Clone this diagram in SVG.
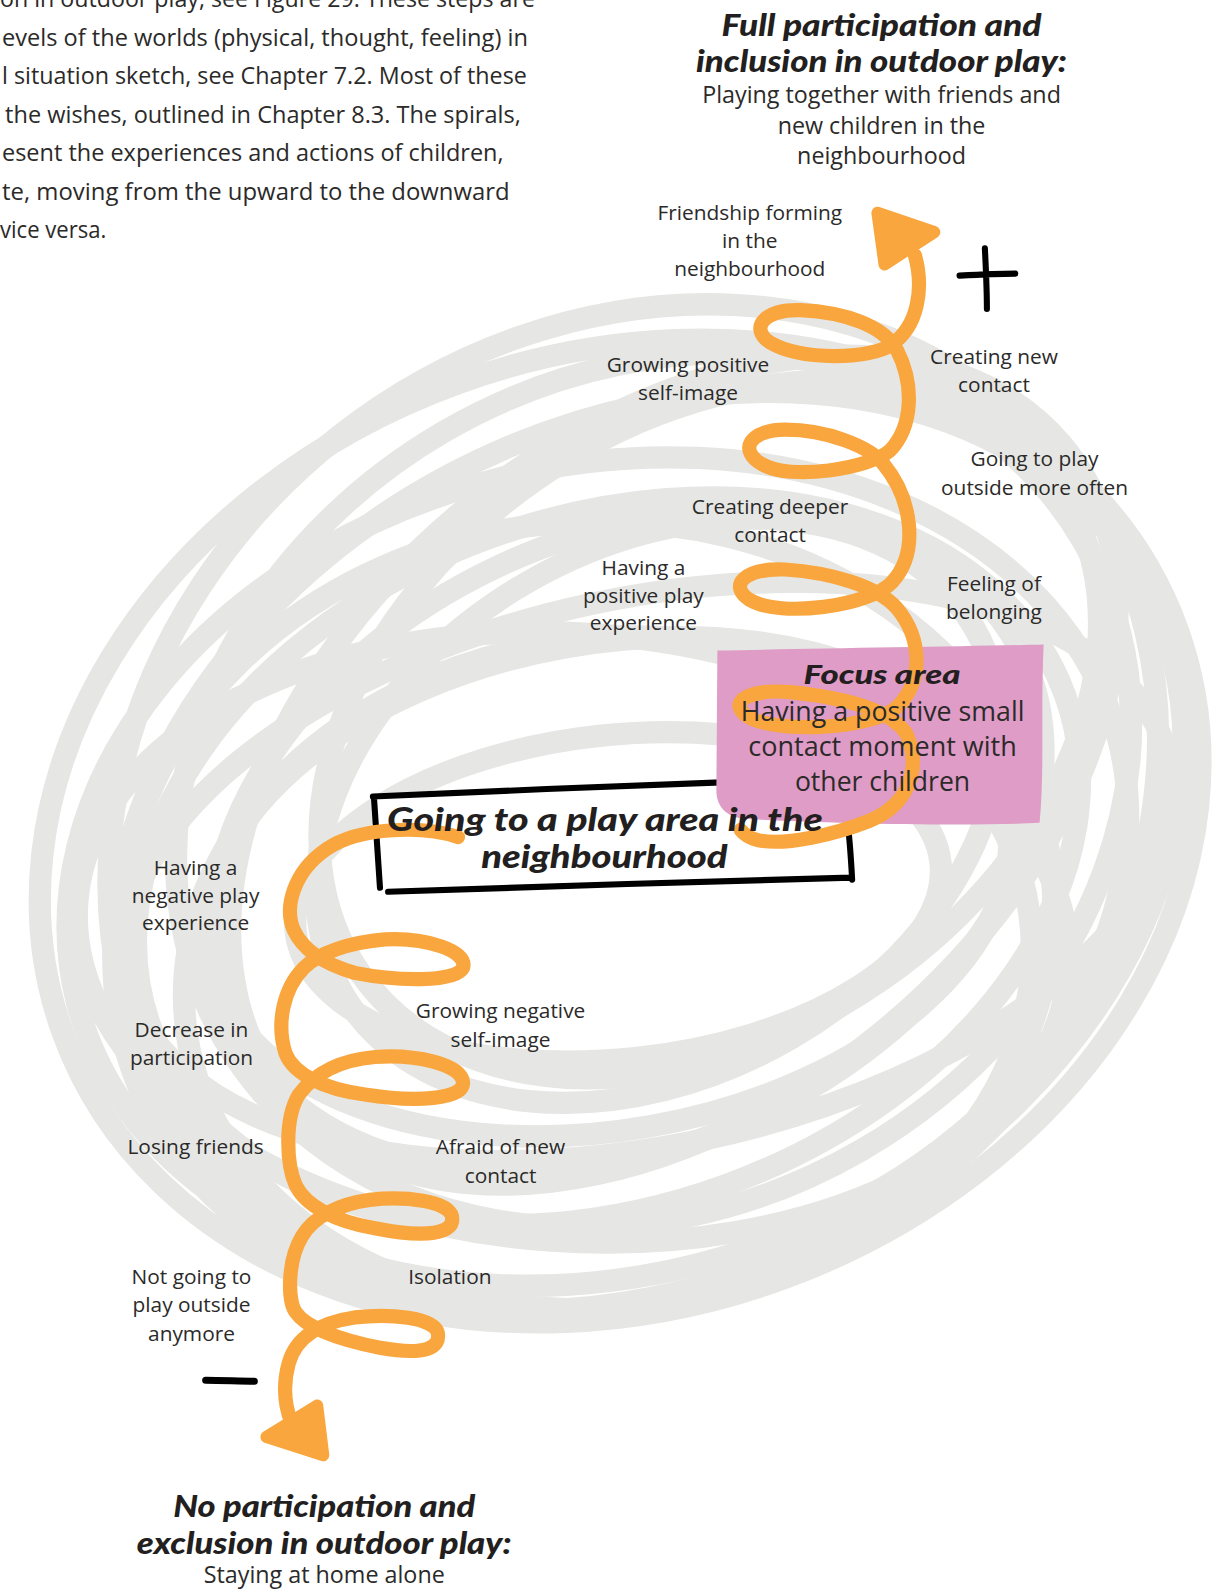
<svg xmlns="http://www.w3.org/2000/svg" width="1224" height="1589" viewBox="0 0 1224 1589">
  <style>
    .para { font-family: "Open Sans", "Noto Sans", sans-serif; font-size: 23px; fill: #2b2a29; }
    .lbl { font-family: "Open Sans", "Noto Sans", sans-serif; font-size: 20.6px; fill: #2b2a29; text-anchor: middle; }
    .sub { font-family: "Open Sans", "Noto Sans", sans-serif; font-size: 23px; fill: #2b2a29; text-anchor: middle; }
    .focus { font-family: "Open Sans", "Noto Sans", sans-serif; font-size: 27px; fill: #2b2a29; text-anchor: middle; }
    .head { font-family: "Lato", "Open Sans", sans-serif; font-weight: 900; font-style: italic; fill: #231f20; }
    .scrib { fill: none; stroke: #e6e7e4; stroke-width: 22; }
    .spiral { fill: none; stroke: #f9a63e; stroke-width: 14; stroke-linecap: round; stroke-linejoin: round; }
    .arrowhead { fill: #f9a63e; stroke: #f9a63e; stroke-width: 12; stroke-linejoin: round; }
    .ink { fill: none; stroke: #000; stroke-width: 6; stroke-linecap: round; stroke-linejoin: round; }
  </style>
  <rect width="1224" height="1589" fill="#fff"/>
  <g transform="scale(1.01325 1.01339)">
    <!-- body text running in from the page column -->
    <g id="paragraph" class="para">
      <text x="0" y="7" textLength="528" lengthAdjust="spacingAndGlyphs">on in outdoor play, see Figure 29. These steps are</text>
      <text x="2" y="45" textLength="519" lengthAdjust="spacingAndGlyphs">evels of the worlds (physical, thought, feeling) in</text>
      <text x="2" y="83" textLength="518" lengthAdjust="spacingAndGlyphs">l situation sketch, see Chapter 7.2. Most of these</text>
      <text x="5" y="121" textLength="509" lengthAdjust="spacingAndGlyphs">the wishes, outlined in Chapter 8.3. The spirals,</text>
      <text x="2" y="159" textLength="495" lengthAdjust="spacingAndGlyphs">esent the experiences and actions of children,</text>
      <text x="2" y="197" textLength="501" lengthAdjust="spacingAndGlyphs">te, moving from the upward to the downward</text>
      <text x="0" y="235" textLength="105" lengthAdjust="spacingAndGlyphs">vice versa.</text>
    </g>

    <!-- grey scribble cloud -->
    <g id="scribble" class="scrib">
      <ellipse cx="612" cy="820" rx="585" ry="470" transform="rotate(-20 612 820)"/>
      <ellipse cx="625" cy="800" rx="545" ry="470" transform="rotate(-38 625 800)"/>
      <ellipse cx="590" cy="860" rx="530" ry="400" transform="rotate(-14 590 860)"/>
      <ellipse cx="645" cy="780" rx="490" ry="410" transform="rotate(-30 645 780)"/>
      <ellipse cx="600" cy="850" rx="480" ry="340" transform="rotate(-20 600 850)"/>
      <ellipse cx="620" cy="830" rx="430" ry="300" transform="rotate(-25 620 830)"/>
      <ellipse cx="600" cy="875" rx="400" ry="240" transform="rotate(-10 600 875)"/>
      <ellipse cx="650" cy="800" rx="360" ry="260" transform="rotate(-30 650 800)"/>
      <ellipse cx="610" cy="885" rx="320" ry="160" transform="rotate(-6 610 885)"/>
      <ellipse cx="640" cy="860" rx="525" ry="270" transform="rotate(-12 640 860)"/>
      <ellipse cx="665" cy="760" rx="500" ry="330" transform="rotate(-40 665 760)"/>
      <ellipse cx="580" cy="905" rx="460" ry="390" transform="rotate(-5 580 905)"/>
      <ellipse cx="700" cy="720" rx="420" ry="300" transform="rotate(-35 700 720)"/>
      <ellipse cx="565" cy="925" rx="490" ry="300" transform="rotate(4 565 925)"/>
      <ellipse cx="640" cy="840" rx="555" ry="420" transform="rotate(-28 640 840)"/>
      <ellipse cx="600" cy="960" rx="420" ry="330" transform="rotate(-8 600 960)"/>
    </g>

    <!-- central node: hand-drawn frame -->
    <g id="node-play-area">
      <path d="M370,786 L712,772 L712,866 L380,878 Z" fill="#fff"/>
      <path class="ink" d="M368,786 C480,781 600,776 712,772 M369,786 C371,815 373,845 375,876 M383,880 C520,875 700,870 840,866 M837,816 C839,833 840,850 841,868"/>
    </g>

    <!-- focus node: pink patch -->
    <g id="node-focus">
      <path d="M708,642 C800,640 950,638 1030,636 C1027,700 1031,760 1026,812 C950,816 800,812 735,808 C716,806 707,795 707,780 Z" fill="#df9cc6"/>
    </g>

    <!-- connectors: upward and downward spirals -->
    <g id="connectors">
      <path class="spiral" d="M903,252 C912,285 906,322 880,340 C858,355 790,356 760,338 C740,325 752,305 790,306 C835,308 872,322 885,345 C902,378 902,420 878,445 C858,462 780,475 752,458 C728,444 740,424 775,424 C815,424 858,440 872,458 C900,492 908,545 880,575 C858,598 770,610 740,592 C718,578 735,560 775,562 C820,565 865,578 885,600 C910,630 912,672 885,698 C860,720 760,725 735,705 C718,690 745,680 780,683 C830,688 880,700 895,725 C910,760 895,795 858,810 C825,823 775,835 748,829 C740,827 734,823 731,819"/>
      <polygon class="arrowhead" points="866,210 922,229 873,261"/>
      <path class="spiral" d="M452,826 C420,815 355,815 322,838 C290,860 280,895 290,918 C298,935 315,950 350,960 C390,968 450,970 457,955 C462,938 420,925 380,927 C345,930 315,940 300,955 C280,975 272,1010 282,1040 C290,1060 320,1075 360,1080 C410,1088 458,1085 457,1068 C455,1050 410,1040 370,1043 C335,1046 310,1060 295,1080 C280,1105 283,1150 292,1170 C302,1190 330,1205 370,1212 C420,1222 450,1218 446,1200 C442,1185 400,1180 365,1184 C335,1188 310,1200 298,1220 C283,1245 284,1285 292,1295 C302,1310 335,1322 375,1330 C420,1338 435,1330 432,1315 C428,1300 385,1296 350,1300 C315,1305 292,1320 285,1345 C278,1370 282,1390 288,1405"/>
      <polygon class="arrowhead" points="313,1387 263,1418 319,1436"/>
    </g>

    <!-- plus and minus marks -->
    <g id="marks" class="ink">
      <path d="M947,272 C965,271 985,270 1002,270 M972,245 C973,265 974,285 974,305"/>
      <path d="M203,1362 C220,1362 236,1363 251,1363" stroke-width="7"/>
    </g>

    <!-- goal nodes -->
    <g id="node-full-participation">
      <text class="head" x="712" y="36" font-size="29" textLength="316" lengthAdjust="spacingAndGlyphs">Full participation and</text>
      <text class="head" x="687" y="71" font-size="29" textLength="366" lengthAdjust="spacingAndGlyphs">inclusion in outdoor play:</text>
      <text class="sub" x="870" y="102">Playing together with friends and</text>
      <text class="sub" x="870" y="132">new children in the</text>
      <text class="sub" x="870" y="162">neighbourhood</text>
    </g>
    <g id="node-no-participation">
      <text class="head" x="171" y="1497" font-size="29" textLength="298" lengthAdjust="spacingAndGlyphs">No participation and</text>
      <text class="head" x="135" y="1533" font-size="29" textLength="370" lengthAdjust="spacingAndGlyphs">exclusion in outdoor play:</text>
      <text class="sub" x="320" y="1562">Staying at home alone</text>
    </g>

    <!-- node texts on top of the spirals -->
    <g id="node-play-area-label">
      <text class="head" x="382" y="820" font-size="32" textLength="430" lengthAdjust="spacingAndGlyphs">Going to a play area in the</text>
      <text class="head" x="475" y="857" font-size="32" textLength="243" lengthAdjust="spacingAndGlyphs">neighbourhood</text>
    </g>
    <g id="node-focus-label">
      <text class="head" x="793" y="675" font-size="27" textLength="155" lengthAdjust="spacingAndGlyphs">Focus area</text>
      <text class="focus" x="871" y="711" textLength="280" lengthAdjust="spacingAndGlyphs">Having a positive small</text>
      <text class="focus" x="871" y="746" textLength="265" lengthAdjust="spacingAndGlyphs">contact moment with</text>
      <text class="focus" x="871" y="781" textLength="173" lengthAdjust="spacingAndGlyphs">other children</text>
    </g>

    <g id="node-friendship" class="lbl">
      <text x="740" y="217">Friendship forming</text>
      <text x="740" y="245">in the</text>
      <text x="740" y="272">neighbourhood</text>
    </g>
    <g id="node-positive-self-image" class="lbl">
      <text x="679" y="367">Growing positive</text>
      <text x="679" y="395">self-image</text>
    </g>
    <g id="node-new-contact" class="lbl">
      <text x="981" y="359">Creating new</text>
      <text x="981" y="387">contact</text>
    </g>
    <g id="node-play-outside" class="lbl">
      <text x="1021" y="460">Going to play</text>
      <text x="1021" y="488">outside more often</text>
    </g>
    <g id="node-deeper-contact" class="lbl">
      <text x="760" y="507">Creating deeper</text>
      <text x="760" y="535">contact</text>
    </g>
    <g id="node-positive-play" class="lbl">
      <text x="635" y="567">Having a</text>
      <text x="635" y="595">positive play</text>
      <text x="635" y="622">experience</text>
    </g>
    <g id="node-belonging" class="lbl">
      <text x="981" y="583">Feeling of</text>
      <text x="981" y="611">belonging</text>
    </g>
    <g id="node-negative-play" class="lbl">
      <text x="193" y="863">Having a</text>
      <text x="193" y="891">negative play</text>
      <text x="193" y="918">experience</text>
    </g>
    <g id="node-negative-self-image" class="lbl">
      <text x="494" y="1005">Growing negative</text>
      <text x="494" y="1033">self-image</text>
    </g>
    <g id="node-decrease" class="lbl">
      <text x="189" y="1023">Decrease in</text>
      <text x="189" y="1051">participation</text>
    </g>
    <g id="node-losing-friends" class="lbl">
      <text x="193" y="1139">Losing friends</text>
    </g>
    <g id="node-afraid" class="lbl">
      <text x="494" y="1139">Afraid of new</text>
      <text x="494" y="1167">contact</text>
    </g>
    <g id="node-isolation" class="lbl">
      <text x="444" y="1267">Isolation</text>
    </g>
    <g id="node-not-going" class="lbl">
      <text x="189" y="1267">Not going to</text>
      <text x="189" y="1295">play outside</text>
      <text x="189" y="1323">anymore</text>
    </g>
  </g>
</svg>
